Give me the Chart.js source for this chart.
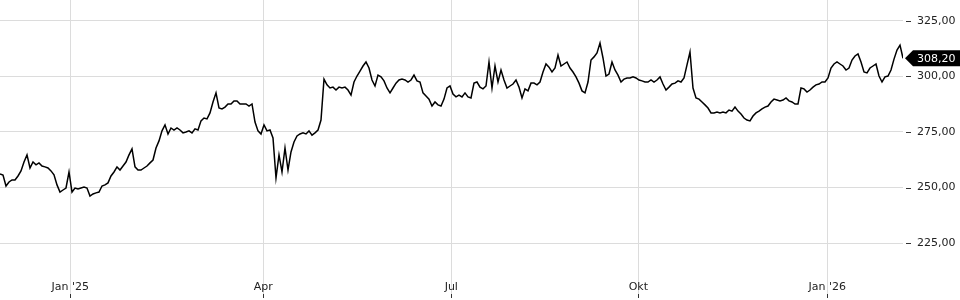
<!DOCTYPE html>
<html>
<head>
<meta charset="utf-8">
<script src="https://cdn.jsdelivr.net/npm/chart.js@4/dist/chart.umd.min.js"></script>
<style>
  html, body { margin: 0; padding: 0; background: #fff; }
  #wrap { width: 960px; height: 300px; position: relative; }
</style>
</head>
<body>
<div id="wrap"><canvas id="c"></canvas></div>
<script>
// Price series (one value per sampling step, oldest first)
const prices = [
  256.1, 255.6, 250.7, 252.5, 253.4, 253.4, 255.2, 257.5, 261.5, 264.7,
  258.8, 261.5, 260.2, 261.1, 259.7, 259.3, 258.8, 257.5, 255.7, 251.2,
  248.0, 248.9, 249.8, 257.0, 248.0, 249.8, 249.4, 249.8, 250.2, 249.8,
  246.2, 247.1, 247.6, 248.0, 250.7, 251.2, 252.1, 255.2, 257.0, 259.3,
  257.9, 259.7, 261.5, 264.7, 267.4, 259.3, 257.9, 257.9, 258.8, 259.7,
  261.1, 262.4, 267.8, 271.0, 275.5, 278.2, 274.1, 276.8, 275.9, 276.8,
  275.9, 274.6, 275.0, 275.5, 274.6, 276.4, 275.9, 280.0, 281.3, 280.9,
  283.6, 288.5, 292.6, 285.8, 285.4, 286.2, 287.6, 287.6, 289.0, 289.0,
  287.6, 287.6, 287.6, 286.7, 287.6, 279.5, 275.5, 274.1, 278.2, 275.5,
  275.9, 272.3, 254.3, 264.7, 257.0, 267.8, 257.9, 266.0, 270.5, 273.2,
  274.1, 274.6, 274.1, 275.5, 273.6, 274.6, 275.9, 280.4, 298.8, 296.2,
  294.8, 295.2, 293.9, 295.2, 294.8, 295.2, 293.9, 291.6, 297.5, 300.2,
  302.4, 304.7, 306.5, 303.8, 298.4, 295.7, 300.6, 299.8, 298.0, 294.8,
  292.6, 294.8, 297.0, 298.4, 298.8, 298.4, 297.5, 298.4, 300.6, 298.0,
  297.5, 292.6, 291.2, 289.8, 286.7, 288.5, 287.2, 286.7, 289.8, 294.8,
  295.7, 292.1, 290.8, 291.6, 290.8, 292.6, 290.8, 290.3, 297.0, 297.5,
  295.2, 294.4, 295.7, 306.5, 294.8, 304.7, 297.5, 302.9, 298.4, 294.8,
  295.7, 296.6, 298.4, 295.2, 290.3, 294.4, 293.5, 297.0, 297.0, 296.2,
  297.5, 302.0, 305.6, 304.2, 302.0, 303.8, 309.6, 304.7, 305.6, 306.5,
  303.8, 302.0, 299.8, 297.0, 293.5, 292.6, 297.5, 307.4, 308.8, 310.6,
  315.0, 308.3, 300.2, 301.1, 306.5, 302.9, 300.6, 297.5, 298.8, 299.3,
  299.3, 299.8, 299.3, 298.4, 298.0, 297.5, 297.5, 298.4, 297.5, 298.4,
  299.8, 296.6, 293.9, 295.2, 296.6, 297.0, 298.0, 297.5, 299.3, 305.2,
  311.0, 294.8, 290.3, 289.8, 288.5, 287.2, 285.8, 283.6, 283.6, 284.0,
  283.6, 284.0, 283.6, 284.9, 284.4, 286.2, 284.4, 283.1, 281.3, 280.4,
  280.0, 282.2, 283.6, 284.4, 285.4, 286.2, 286.7, 288.5, 289.8, 289.4,
  289.0, 289.4, 290.3, 289.0, 288.5, 287.6, 287.6, 294.8, 294.4, 293.0,
  293.9, 295.2, 296.2, 296.6, 297.5, 297.5, 299.3, 303.8, 305.6, 306.5,
  305.6, 304.7, 302.9, 303.8, 307.4, 309.2, 310.1, 306.5, 302.0, 301.6,
  303.8, 304.7, 305.6, 300.2, 297.5, 299.8, 300.2, 302.9, 307.8, 311.9,
  314.1, 308.2
];

// Sampling-step position of each month start, and its label
const monthTickAt = [23.43, 87.77, 150.43, 212.77, 275.77];
const monthLabels = ["Jan '25", "Apr", "Jul", "Okt", "Jan '26"];

// Visible price range and gridline step
const yMin = 210.2;
const yMax = 334.4;
const yStep = 25;

const GRID = '#dcdcdc';
const TEXT = '#222';
const FONT = 'DejaVu Sans';

Chart.defaults.font.family = FONT;
Chart.defaults.font.size = 11;
Chart.defaults.color = TEXT;

const fmt = v => v.toFixed(2).replace('.', ',');

const decorPlugin = {
  id: 'decor',
  afterDraw(chart) {
    const ctx = chart.ctx;
    const ys = chart.scales.y;
    const xs = chart.scales.x;
    const area = chart.chartArea;
    ctx.save();
    ctx.strokeStyle = '#333';
    ctx.lineWidth = 1;
    ys.ticks.forEach(t => {
      const py = Math.round(ys.getPixelForValue(t.value)) + 0.5;
      ctx.beginPath();
      ctx.moveTo(area.right + 3, py);
      ctx.lineTo(area.right + 8, py);
      ctx.stroke();
    });
    xs.ticks.forEach(t => {
      const px = Math.round(xs.getPixelForValue(t.value)) + 0.5;
      ctx.beginPath();
      ctx.moveTo(px, 294);
      ctx.lineTo(px, 298);
      ctx.stroke();
    });
    const last = prices[prices.length - 1];
    const py = ys.getPixelForValue(last);
    const tip = area.right + 2;
    ctx.fillStyle = '#000';
    ctx.beginPath();
    ctx.moveTo(tip, py);
    ctx.lineTo(tip + 8, py - 8);
    ctx.lineTo(chart.width, py - 8);
    ctx.lineTo(chart.width, py + 8);
    ctx.lineTo(tip + 8, py + 8);
    ctx.closePath();
    ctx.fill();
    ctx.fillStyle = '#fff';
    ctx.font = '11px "' + FONT + '"';
    ctx.textBaseline = 'middle';
    ctx.textAlign = 'left';
    ctx.fillText(fmt(last), area.right + 14, py + 0.5);
    ctx.restore();
  }
};

new Chart(document.getElementById('c'), {
  type: 'line',
  data: {
    datasets: [{
      data: prices.map((v, i) => ({ x: i, y: v })),
      borderColor: '#000',
      borderWidth: 1.5,
      pointRadius: 0,
      tension: 0,
      fill: false
    }]
  },
  options: {
    responsive: true,
    maintainAspectRatio: false,
    animation: false,
    events: [],
    layout: { padding: 0 },
    plugins: { legend: { display: false }, tooltip: { enabled: false } },
    scales: {
      x: {
        type: 'linear',
        min: 0,
        max: prices.length - 1,
        position: 'bottom',
        border: { display: false },
        grid: { color: GRID, tickColor: GRID, drawTicks: true, tickLength: 21 },
        ticks: {
          autoSkip: false,
          maxRotation: 0,
          padding: -16,
          color: TEXT,
          callback: (v, i) => monthLabels[i]
        },
        afterBuildTicks: s => { s.ticks = monthTickAt.map(v => ({ value: v })); },
        afterFit: s => { s.height = 24; s.paddingLeft = 0; s.paddingRight = 0; }
      },
      y: {
        position: 'right',
        min: yMin,
        max: yMax,
        border: { display: false },
        grid: { color: GRID, drawTicks: false },
        ticks: {
          stepSize: yStep,
          includeBounds: false,
          padding: 14,
          color: TEXT,
          callback: v => fmt(v)
        },
        afterFit: s => { s.width = 57; s.paddingTop = 0; s.paddingBottom = 0; }
      }
    }
  },
  plugins: [decorPlugin]
});
</script>
</body>
</html>
